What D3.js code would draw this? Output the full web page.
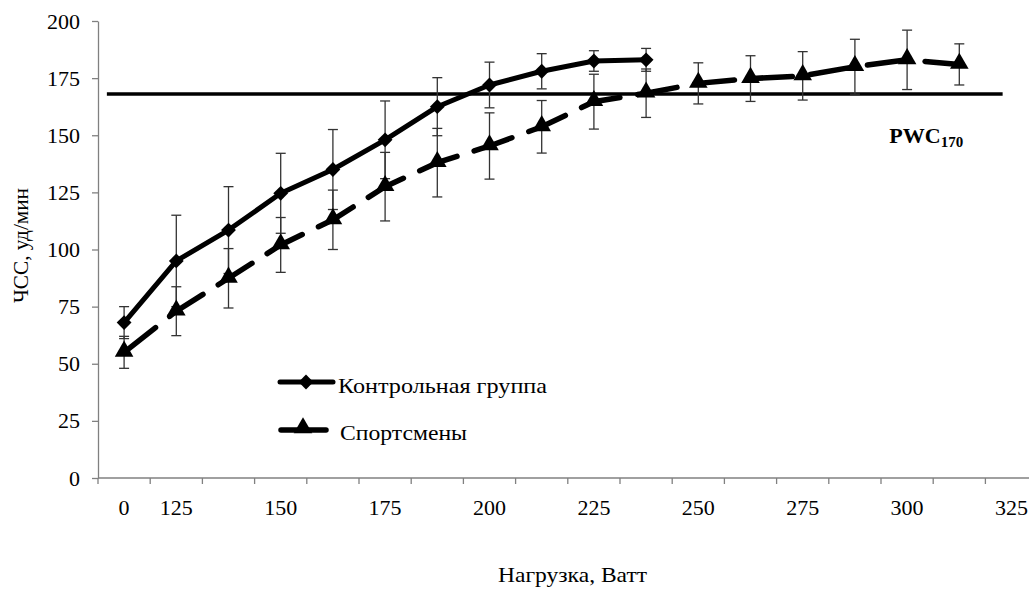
<!DOCTYPE html>
<html>
<head>
<meta charset="utf-8">
<script src="https://cdn.jsdelivr.net/npm/d3@7"></script>
<style>
  html, body { margin:0; padding:0; background:#fff; }
  svg { display:block; font-family:"Liberation Serif","Times New Roman",serif; }
  .axis path, .axis line { stroke:#808080; stroke-width:1.3px; }
</style>
</head>
<body>
<div id="chart"></div>
<script>
/* ---------- data ---------- */
// 18 категорий по оси X, подписи только через одну
const tickLabels = ["0","125","","150","","175","","200","","225","","250","","275","","300","","325"];

const controlHR  = [68, 95, 108.5, 124.6, 135, 148, 162.5, 172, 178, 182.5, 183];
const controlErr = [7, 20, 19, 17.5, 17.5, 17, 12.7, 10, 7.7, 4.5, 5];

const athleteHR  = [55, 73, 87.4, 102, 113, 127.5, 138, 145.3, 153.7, 164.7, 168.4, 172.7, 174.8, 176, 180, 183, 181];
const athleteErr = [7, 10.7, 13, 12, 13, 15, 15, 14.5, 11.5, 12, 10.6, 9, 10, 10.6, 12, 13, 9];

const yTicks = [0, 25, 50, 75, 100, 125, 150, 175, 200];
const pwcLevel = 168;

const seriesNames = ["Контрольная группа", "Спортсмены"];

/* ---------- layout ---------- */
const W = 1029, H = 590;
const X0 = 98, STEP = 52.2;
const SERIF = "'Liberation Serif','Times New Roman',serif";
const svg = d3.select("#chart").append("svg").attr("width", W).attr("height", H);

const x = d3.scaleBand().domain(d3.range(tickLabels.length)).range([X0, X0 + STEP*tickLabels.length]).padding(0);
const xc = i => x(i) + x.bandwidth()/2;
const xi = d3.scaleLinear().domain([0, tickLabels.length]).range(x.range());
const y = d3.scaleLinear().domain([0, 200]).range([478, 21]);

/* ---------- axes ---------- */
const ya = svg.append("g").attr("class","axis").attr("transform",`translate(${X0},0)`)
  .call(d3.axisLeft(y).tickValues(yTicks).tickSize(6).tickPadding(12).tickSizeOuter(0));

const xa = svg.append("g").attr("class","axis").attr("transform",`translate(0,${y(0)})`)
  .call(d3.axisBottom(x).tickFormat(i => tickLabels[i]).tickSize(0).tickPadding(21));
xa.select(".domain").attr("d", `M${X0},0H${W}`);
// засечки на границах категорий
xa.selectAll("line.sep").data(d3.range(tickLabels.length)).join("line")
  .attr("class","sep")
  .attr("x1", d => x(d)).attr("x2", d => x(d))
  .attr("y1", 0).attr("y2", 6);

[ya, xa].forEach(a => {
  a.attr("font-family", SERIF).attr("font-size", 22);
  a.selectAll("text").attr("font-family", SERIF).attr("fill", "#000");
});

/* ---------- PWC170 line ---------- */
svg.append("line")
  .attr("x1", xi(0.17)).attr("x2", xi(17.33))
  .attr("y1", y(pwcLevel)).attr("y2", y(pwcLevel))
  .attr("stroke", "#000").attr("stroke-width", 3.5);

const pwc = svg.append("text").attr("x", xi(15.16)).attr("y", 143)
  .attr("font-weight", "bold").attr("font-size", 22);
pwc.append("tspan").text("PWC");
pwc.append("tspan").attr("font-size", 15).attr("dy", 4).text("170");

/* ---------- error bars ---------- */
function errBars(vals, errs){
  const g = svg.append("g").attr("stroke", "#333").attr("stroke-width", 1.3);
  vals.forEach((v, i) => {
    const cx = xc(i), top = y(v + errs[i]), bot = y(v - errs[i]);
    g.append("line").attr("x1", cx).attr("x2", cx).attr("y1", top).attr("y2", bot);
    g.append("line").attr("x1", cx-5).attr("x2", cx+5).attr("y1", top).attr("y2", top);
    g.append("line").attr("x1", cx-5).attr("x2", cx+5).attr("y1", bot).attr("y2", bot);
  });
}
errBars(controlHR, controlErr);
errBars(athleteHR, athleteErr);

/* ---------- lines ---------- */
const line = d3.line().x((d, i) => xc(i)).y(d => y(d));

svg.append("path").datum(athleteHR).attr("d", line)
  .attr("fill","none").attr("stroke","#000").attr("stroke-width",5.5)
  .attr("stroke-dasharray","40,18").attr("stroke-linecap","round");

svg.append("path").datum(controlHR).attr("d", line)
  .attr("fill","none").attr("stroke","#000").attr("stroke-width",5)
  .attr("stroke-linejoin","round");

/* ---------- markers ---------- */
const diamond = d3.symbol().type(d3.symbolDiamond2).size(140);
const triangle = d3.symbol().type(d3.symbolTriangle).size(150);

svg.append("g").selectAll("path").data(controlHR).join("path")
  .attr("d", diamond).attr("fill","#000")
  .attr("transform", (d, i) => `translate(${xc(i)},${y(d)})`);

svg.append("g").selectAll("path").data(athleteHR).join("path")
  .attr("d", triangle).attr("fill","#000")
  .attr("transform", (d, i) => `translate(${xc(i)},${y(d) - 1})`);

/* ---------- legend ---------- */
const lg = svg.append("g").attr("font-size", 22);
lg.append("line").attr("x1",280).attr("x2",333).attr("y1",382).attr("y2",382)
  .attr("stroke","#000").attr("stroke-width",5).attr("stroke-linecap","round");
lg.append("path").attr("d", diamond).attr("transform","translate(306,382)");
lg.append("text").attr("x",338).attr("y",393)
  .attr("textLength",209).attr("lengthAdjust","spacingAndGlyphs").text(seriesNames[0]);

lg.append("line").attr("x1",281).attr("x2",326).attr("y1",430).attr("y2",430)
  .attr("stroke","#000").attr("stroke-width",5.5).attr("stroke-linecap","round");
lg.append("path").attr("d", triangle).attr("transform","translate(303,428)");
lg.append("text").attr("x",340).attr("y",440)
  .attr("textLength",127).attr("lengthAdjust","spacingAndGlyphs").text(seriesNames[1]);

/* ---------- titles ---------- */
svg.append("text").attr("x", 498).attr("y", 582)
  .attr("font-size", 21).attr("textLength",149).attr("lengthAdjust","spacingAndGlyphs")
  .text("Нагрузка, Ватт");

svg.append("text").attr("transform","translate(28,303) rotate(-90)")
  .attr("font-size", 21).attr("textLength",115).attr("lengthAdjust","spacingAndGlyphs")
  .text("ЧСС, уд/мин");
</script>
</body>
</html>
